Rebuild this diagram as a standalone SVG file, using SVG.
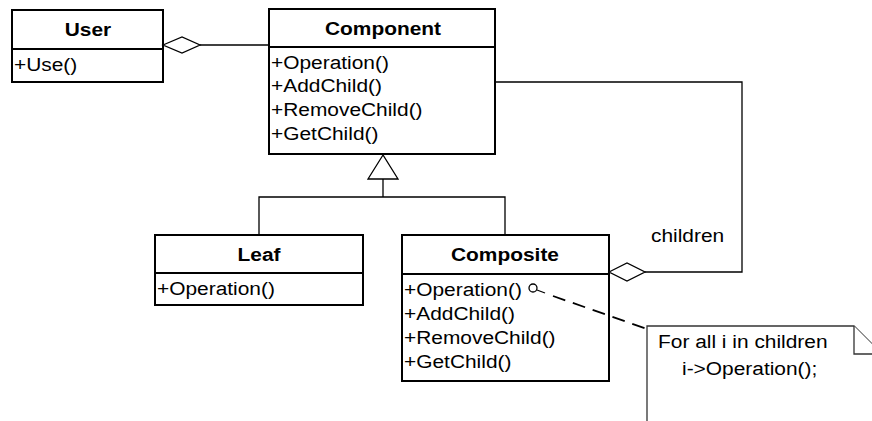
<svg xmlns="http://www.w3.org/2000/svg" width="872" height="421" viewBox="0 0 872 421">
  <style>
    .box { fill: #fff; stroke: #000; stroke-width: 2; }
    .sep { stroke: #000; stroke-width: 2; }
    .title { font-family: "Liberation Sans", Arial, sans-serif; font-size: 19px; font-weight: bold; text-anchor: middle; }
    .op { font-family: "Liberation Sans", Arial, sans-serif; font-size: 19px; }
    .lbl { font-family: "Liberation Sans", Arial, sans-serif; font-size: 19px; }
    .wire { fill: none; stroke: #000; stroke-width: 1.3; }
    .dash { fill: none; stroke: #000; stroke-width: 1.8; stroke-dasharray: 13 8; }
    .agg { fill: #fff; stroke: #000; stroke-width: 1.3; }
    .note { fill: #fff; stroke: #333; stroke-width: 1.3; }
  </style>

  <g id="user">
    <rect class="box" x="12" y="10" width="151" height="72"/>
    <line class="sep" x1="12" y1="49" x2="163" y2="49"/>
    <text class="title" transform="translate(88 36) scale(1.1 1)">User</text>
    <text class="op" transform="translate(14 71) scale(1.1 1)">+Use()</text>
  </g>

  <g id="component">
    <rect class="box" x="269" y="9" width="226" height="145"/>
    <line class="sep" x1="269" y1="47" x2="495" y2="47"/>
    <text class="title" transform="translate(383 35) scale(1.1 1)">Component</text>
    <text class="op" transform="translate(271 69) scale(1.1 1)">+Operation()</text>
    <text class="op" transform="translate(271 92) scale(1.1 1)">+AddChild()</text>
    <text class="op" transform="translate(271 116) scale(1.1 1)">+RemoveChild()</text>
    <text class="op" transform="translate(271 140) scale(1.1 1)">+GetChild()</text>
  </g>

  <g id="leaf">
    <rect class="box" x="155" y="235" width="208" height="70"/>
    <line class="sep" x1="155" y1="273" x2="363" y2="273"/>
    <text class="title" transform="translate(259 261) scale(1.1 1)">Leaf</text>
    <text class="op" transform="translate(157 295) scale(1.1 1)">+Operation()</text>
  </g>

  <g id="composite">
    <rect class="box" x="402" y="235" width="207" height="146"/>
    <line class="sep" x1="402" y1="274" x2="609" y2="274"/>
    <text class="title" transform="translate(505 261) scale(1.1 1)">Composite</text>
    <text class="op" transform="translate(404 296) scale(1.1 1)">+Operation()</text>
    <text class="op" transform="translate(404 320) scale(1.1 1)">+AddChild()</text>
    <text class="op" transform="translate(404 344) scale(1.1 1)">+RemoveChild()</text>
    <text class="op" transform="translate(404 368) scale(1.1 1)">+GetChild()</text>
  </g>

  <g id="note">
    <path class="note" d="M647,430 L647,326 L854,326 L882,354 L882,430 Z"/>
    <polyline class="note" points="854,326 854,354 882,354"/>
    <text class="lbl" transform="translate(658 348) scale(1.1 1)">For all i in children</text>
    <text class="lbl" transform="translate(682 375) scale(1.1 1)">i-&gt;Operation();</text>
  </g>

  <!-- connectors -->
  <g id="connectors">
    <!-- User aggregates Component -->
    <line class="wire" x1="200" y1="45" x2="269" y2="45"/>
    <polygon class="agg" points="163,45 182,37 200,45 182,53"/>
    <!-- generalization: Leaf / Composite to Component -->
    <polyline class="wire" points="259,235 259,197 505,197 505,235"/>
    <line class="wire" x1="383" y1="179" x2="383" y2="197"/>
    <polygon class="agg" points="383,155 368,179 398,179"/>
    <!-- Composite aggregates children (Component) -->
    <polyline class="wire" points="495,82 742,82 742,272 645,272"/>
    <polygon class="agg" points="609,272 627,263 645,272 627,281"/>
    <text class="lbl" transform="translate(651 242) scale(1.1 1)">children</text>
    <!-- note anchor -->
    <circle cx="533" cy="288" r="4" fill="#fff" stroke="#000" stroke-width="1.3"/>
    <line class="wire" x1="537" y1="290" x2="545" y2="293"/>
    <line class="dash" x1="553" y1="296" x2="647" y2="329"/>
  </g>
</svg>
